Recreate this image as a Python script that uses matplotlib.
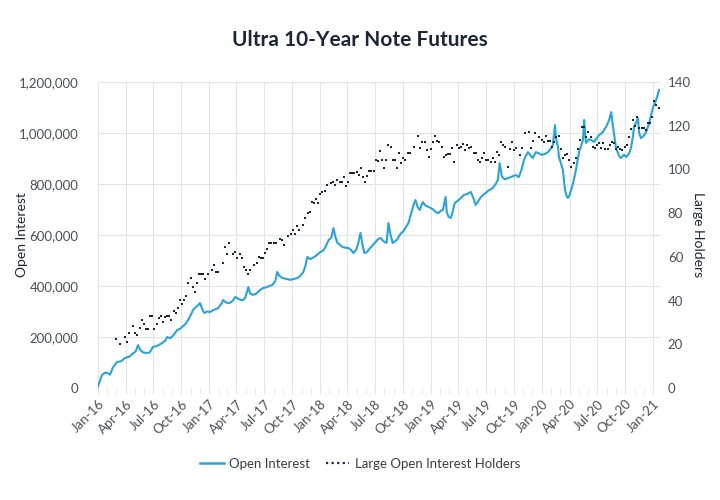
import numpy as np
import pandas as pd
import matplotlib
matplotlib.use('Agg')
import matplotlib.pyplot as plt
import matplotlib.dates as mdates
from matplotlib.ticker import FuncFormatter, MultipleLocator
from matplotlib.lines import Line2D

plt.rcParams['font.family'] = ['Lato', 'DejaVu Sans']

# open interest: days since 2016-01-01, value in thousands of contracts
oi_days = [0, 7, 13, 23, 33, 40, 49, 63, 76, 89, 102, 115, 125, 132, 139, 148, 162, 171,
           181, 195, 211, 221, 228, 237, 247, 261, 270, 277, 287, 297, 307, 313, 323, 330,
           336, 343, 350, 359, 369, 379, 389, 396, 406, 412, 422, 432, 442, 452, 462, 472,
           478, 485, 495, 501, 511, 521, 534, 544, 554, 564, 574, 584, 590, 597, 607, 620,
           633, 646, 656, 666, 676, 683, 689, 699, 706, 719, 732, 742, 749, 759, 768, 775,
           782, 788, 798, 805, 815, 824, 834, 841, 851, 857, 864, 871, 877, 887, 890, 904,
           914, 923, 930, 940, 950, 956, 963, 970, 983, 996, 1003, 1013, 1022, 1032, 1039,
           1045, 1052, 1059, 1069, 1078, 1088, 1095, 1105, 1111, 1121, 1128, 1135, 1144,
           1148, 1154, 1161, 1167, 1174, 1187, 1194, 1204, 1214, 1227, 1237, 1243, 1250,
           1260, 1270, 1276, 1286, 1299, 1309, 1316, 1322, 1329, 1339, 1352, 1365, 1375,
           1385, 1395, 1402, 1408, 1415, 1425, 1431, 1441, 1451, 1461, 1471, 1481, 1491,
           1497, 1504, 1507, 1514, 1517, 1524, 1530, 1537, 1543, 1547, 1553, 1557, 1563,
           1573, 1583, 1590, 1596, 1600, 1603, 1606, 1616, 1623, 1632, 1642, 1649, 1659,
           1672, 1682, 1689, 1695, 1705, 1715, 1721, 1731, 1738, 1748, 1754, 1761, 1764,
           1771, 1777, 1781, 1787, 1797, 1804, 1814, 1820, 1827, 1837, 1847]
oi_vals = [5, 30, 50, 60, 58, 52, 80, 102, 105, 118, 122, 135, 145, 168, 150, 140, 137, 140,
           161, 165, 176, 185, 200, 195, 205, 227, 232, 239, 250, 267, 290, 306, 318, 325,
           333, 310, 294, 300, 298, 305, 310, 314, 330, 345, 335, 333, 340, 357, 350, 345,
           345, 355, 396, 370, 365, 370, 385, 392, 395, 400, 404, 420, 455, 440, 431, 428,
           424, 428, 431, 440, 455, 480, 514, 505, 510, 520, 533, 540, 553, 580, 590, 627,
           590, 569, 560, 553, 550, 549, 540, 529, 545, 570, 608, 560, 529, 535, 541, 560,
           573, 585, 588, 575, 569, 647, 600, 569, 580, 605, 612, 630, 647, 690, 720,
           737, 710, 698, 729, 715, 710, 706, 698, 690, 686, 695, 698, 749,
           690, 671, 667, 690, 725, 737, 745, 757, 760, 769, 740, 718, 730,
           749, 760, 765, 775, 784, 800, 816, 882, 830, 818, 824, 830, 835,
           827, 860, 894, 910, 925, 910, 902, 925, 920, 914, 918, 925, 940,
           953, 1031, 980, 945, 906, 880, 855, 777, 750, 745, 760, 777, 800,
           855, 925, 950, 973, 1051, 1000, 961, 975, 973, 965, 980, 992, 1000,
           1024, 1050, 1082, 1024, 941, 910, 902, 915, 906, 920, 941, 990, 1024,
           1040, 1059, 1000, 980, 990, 1004, 1039, 1070, 1102, 1130, 1169]

# large open interest holders: weekly reports, week number since 2016-01-05
hold_week = [8, 10, 12, 13, 14, 16, 17, 18, 19, 20, 21, 22, 23, 24, 25, 26, 27, 28, 29, 30,
             31, 32, 33, 34, 35, 36, 37, 38, 39, 40, 41, 42, 43, 44, 45, 46, 47, 48, 49, 50,
             51, 53, 54, 55, 56, 58, 59, 60, 61, 63, 64, 65, 66, 67, 68, 69, 70, 71, 73, 74,
             75, 76, 77, 78, 79, 80, 81, 82, 83, 85, 86, 87, 89, 90, 91, 92, 93, 94, 96, 97,
             98, 99, 100, 101, 102, 103, 104, 105, 106, 107, 109, 110, 111, 112, 113, 114,
             115, 116, 117, 118, 119, 120, 121, 122, 123, 124, 125, 126, 127, 128, 129, 130,
             131, 132, 133, 134, 135, 136, 137, 138, 139, 140, 141, 142, 143, 144, 145, 146,
             148, 150, 151, 152, 153, 154, 155, 156, 157, 158, 159, 160, 161, 162, 163, 164,
             165, 166, 167, 168, 169, 170, 171, 172, 173, 174, 175, 176, 177, 178, 179, 180,
             181, 182, 183, 184, 185, 186, 187, 188, 189, 190, 191, 192, 193, 194, 195, 196,
             198, 199, 200, 202, 203, 204, 205, 207, 208, 209, 210, 211, 212, 213, 214, 215,
             216, 217, 218, 219, 220, 221, 222, 223, 224, 225, 226, 227, 228, 229, 230, 231,
             232, 233, 234, 235, 236, 237, 238, 239, 240, 241, 242, 243, 244, 245, 246, 247,
             248, 249, 250, 251, 252, 253, 254, 255, 256, 257, 258, 259, 260, 261, 262, 263]
hold_vals = [22.4, 20.1, 23.3, 21.0, 25.2, 28.4, 25.2, 24.2, 27.4, 31.1, 29.3, 27.0, 27.0,
             32.9, 32.9, 27.0, 29.3, 32.0, 32.9, 30.2, 32.5, 32.9, 32.9, 31.1, 35.2, 34.3,
             36.6, 40.3, 38.4, 40.3, 42.1, 48.0, 50.3, 46.2, 43.9, 48.0, 52.2, 52.2, 52.2,
             49.9, 52.2, 54.0, 56.3, 53.1, 53.1, 57.2, 64.5, 61.3, 66.3, 61.3, 62.0, 59.5,
             61.3, 59.5, 55.4, 54.0, 52.2, 54.0, 56.3, 57.2, 59.9, 59.5, 59.5, 61.8, 63.6,
             66.3, 66.3, 66.3, 66.3, 68.2, 67.7, 65.4, 69.5, 70.4, 72.3, 70.4, 74.1, 72.3,
             74.6, 77.8, 80.1, 80.5, 85.1, 84.6, 86.5, 84.6, 88.8, 89.7, 90.1, 92.9, 93.8,
             94.2, 92.9, 95.2, 94.2, 94.2, 96.5, 92.4, 94.2, 98.4, 98.4, 98.4, 98.8, 97.5,
             100.7, 96.5, 94.2, 97.0, 99.3, 99.3, 99.3, 104.3, 103.9, 108.4, 104.3, 100.7,
             104.3, 111.2, 110.3, 104.3, 104.3, 100.7, 107.5, 102.9, 105.2, 104.3, 107.5,
             107.5, 110.3, 115.3, 109.8, 112.5, 112.5, 108.9, 105.7, 109.3, 112.5, 115.3,
             113.0, 112.5, 110.3, 105.7, 106.6, 107.1, 107.1, 109.8, 103.4, 111.2, 109.8,
             110.3, 111.6, 108.9, 111.2, 109.8, 110.3, 107.5, 107.5, 104.3, 103.4, 105.2,
             107.5, 104.3, 104.3, 103.4, 105.2, 103.4, 108.0, 106.6, 112.5, 111.2, 110.3,
             101.1, 109.3, 112.5, 108.9, 109.8, 106.6, 109.8, 116.7, 117.1, 109.8, 113.0,
             116.7, 114.8, 113.5, 112.5, 115.3, 113.0, 113.0, 110.3, 112.5, 114.8, 115.3,
             109.3, 105.2, 106.6, 107.1, 104.3, 101.1, 102.9, 105.2, 109.3, 113.5, 119.4,
             119.4, 114.8, 117.1, 114.8, 110.3, 109.8, 111.2, 112.1, 109.8, 112.1, 109.3,
             109.3, 111.2, 112.5, 112.1, 109.3, 110.3, 109.3, 108.9, 110.3, 111.2, 114.8,
             118.5, 122.6, 119.9, 124.0, 119.0, 119.0, 119.0, 118.0, 121.2, 121.2, 124.0,
             131.3, 129.5, 128.1]

oi_dates = pd.Timestamp('2016-01-01') + pd.to_timedelta(oi_days, unit='D')
hold_dates = pd.Timestamp('2016-01-05') + pd.to_timedelta(np.array(hold_week) * 7, unit='D')

blue = '#2aa4d8'
navy = '#1b2638'
grid_c = '#dfe5ea'
tick_c = '#4a5058'

fig = plt.figure(figsize=(7.2, 5), dpi=100)
ax = fig.add_axes([0.136, 0.224, 0.78, 0.612])
ax2 = ax.twinx()

ax.plot(oi_dates, np.array(oi_vals) * 1000, color=blue, lw=1.5, zorder=3)
ax2.plot(hold_dates, hold_vals, ls='none', marker='s', ms=1.7, mew=0, color=navy, zorder=4)

ax.set_xlim(pd.Timestamp('2016-01-01'), pd.Timestamp('2021-01-22'))
ax.set_ylim(0, 1200000)
ax2.set_ylim(0, 140)

ax.yaxis.set_major_locator(MultipleLocator(200000))
ax.yaxis.set_major_formatter(FuncFormatter(lambda v, p: '{:,.0f}'.format(v)))
ax2.yaxis.set_major_locator(MultipleLocator(20))

ax.xaxis.set_major_locator(mdates.MonthLocator(bymonth=[1, 4, 7, 10]))
ax.xaxis.set_minor_locator(mdates.MonthLocator())
ax.xaxis.set_major_formatter(mdates.DateFormatter('%b-%y'))

ax.grid(True, which='major', color=grid_c, lw=0.8)
ax.set_axisbelow(True)
for a in (ax, ax2):
    for s in a.spines.values():
        s.set_visible(False)

ax.tick_params(axis='x', which='both', length=4, color=grid_c, labelsize=9.5,
               labelcolor=tick_c, pad=3)
ax.tick_params(axis='y', length=0, labelsize=9.5, labelcolor=tick_c, pad=14)
ax2.tick_params(axis='y', length=0, labelsize=9.5, labelcolor=tick_c, pad=6)
for lbl in ax.get_xticklabels():
    lbl.set_rotation(45)
    lbl.set_ha('right')
    lbl.set_rotation_mode('anchor')

ax.set_ylabel('Open Interest', fontsize=10, color=navy)
ax.yaxis.set_label_coords(-0.125, 0.5)
ax2.set_ylabel('Large Holders', fontsize=10, color=navy, rotation=270, va='bottom')
ax2.yaxis.set_label_coords(1.058, 0.5)

fig.text(0.5, 0.92, 'Ultra 10-Year Note Futures', ha='center', va='center',
         fontsize=15, fontweight='bold', color=navy)

handles = [Line2D([], [], color=blue, lw=1.8),
           Line2D([], [], color=navy, ls=(0, (1, 1.5)), lw=1.6)]
fig.legend(handles, ['Open Interest', 'Large Open Interest Holders'], loc='center',
           bbox_to_anchor=(0.5, 0.072), ncol=2, frameon=False, fontsize=9.5,
           handlelength=1.8, handletextpad=0.4, columnspacing=1.2,
           labelcolor='#3a3f47')

fig.savefig('out.png', dpi=100)
